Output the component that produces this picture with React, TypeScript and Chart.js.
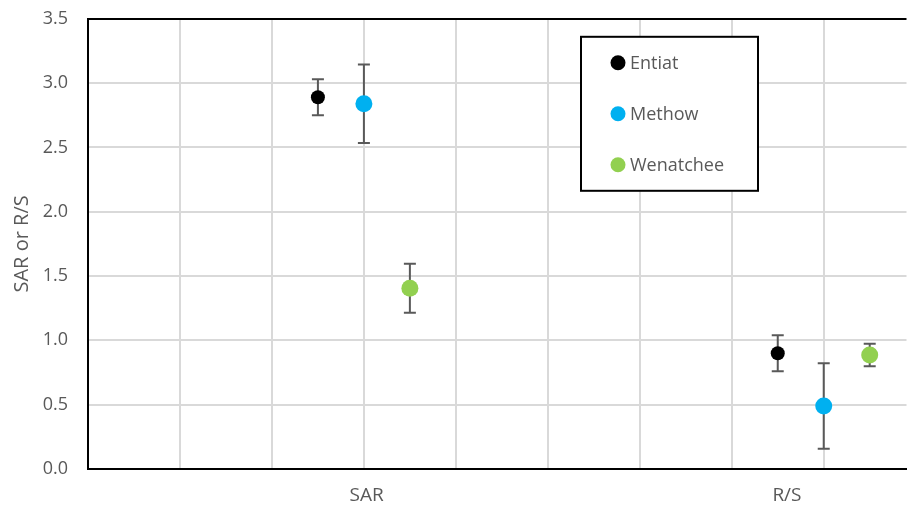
import React, { useEffect, useRef } from "react";
import { Chart, registerables } from "chart.js";

Chart.register(...registerables);

const categories = ["SAR", "R/S"];
const categoryLabelAt = [3.03, 7.6];
const seriesNames = ["Entiat", "Methow", "Wenatchee"];
const seriesColors = ["#000000", "#00B0F0", "#92D050"];
const seriesRadius = [7, 8.5, 8.5];
const seriesX = [
  [2.5, 7.5],
  [3, 8],
  [3.5, 8.5],
];
const entiatValues = [2.89, 0.9];
const entiatErrors = [0.14, 0.14];
const methowValues = [2.84, 0.49];
const methowErrors = [0.305, 0.332];
const wenatcheeValues = [1.405, 0.886];
const wenatcheeErrors = [0.19, 0.088];
const yTicks = [0, 0.5, 1, 1.5, 2, 2.5, 3, 3.5];

const FONT = "'Open Sans', 'Noto Sans', sans-serif";
const TEXT = "#595959";

const values = [entiatValues, methowValues, wenatcheeValues];
const errors = [entiatErrors, methowErrors, wenatcheeErrors];

const errorBarPlugin = {
  id: "errorBars",
  beforeDatasetsDraw(chart: any) {
    const ctx = chart.ctx;
    const ys = chart.scales.y;
    ctx.save();
    ctx.strokeStyle = "#595959";
    ctx.lineWidth = 2;
    chart.data.datasets.forEach((ds: any, di: number) => {
      const meta = chart.getDatasetMeta(di);
      meta.data.forEach((pt: any, i: number) => {
        const v = ds.data[i].y;
        const e = ds.errors[i];
        const top = ys.getPixelForValue(v + e);
        const bot = ys.getPixelForValue(v - e);
        const x = pt.x;
        ctx.beginPath();
        ctx.moveTo(x, top);
        ctx.lineTo(x, bot);
        ctx.moveTo(x - 6, top);
        ctx.lineTo(x + 6, top);
        ctx.moveTo(x - 6, bot);
        ctx.lineTo(x + 6, bot);
        ctx.stroke();
      });
    });
    ctx.restore();
  },
};

const legendBoxPlugin = {
  id: "legendBox",
  afterDraw(chart: any) {
    const ctx = chart.ctx;
    const a = chart.chartArea;
    const box = { x: a.left + 493, y: a.top + 18, w: 177, h: 154 };
    ctx.save();
    ctx.fillStyle = "#ffffff";
    ctx.fillRect(box.x, box.y, box.w, box.h);
    ctx.strokeStyle = "#000000";
    ctx.lineWidth = 2;
    ctx.strokeRect(box.x, box.y, box.w, box.h);
    chart.data.datasets.forEach((ds: any, i: number) => {
      const cy = box.y + 26 + i * 51;
      ctx.beginPath();
      ctx.fillStyle = ds.backgroundColor;
      ctx.arc(box.x + 37, cy, 7.5, 0, Math.PI * 2);
      ctx.fill();
      ctx.fillStyle = TEXT;
      ctx.font = `18px ${FONT}`;
      ctx.textBaseline = "middle";
      ctx.textAlign = "left";
      ctx.fillText(ds.label, box.x + 49, cy + 1);
    });
    ctx.restore();
  },
};

export default function App() {
  const ref = useRef<HTMLCanvasElement>(null);
  useEffect(() => {
    document.body.style.margin = "0";
    const datasets = seriesNames.map((name, s) => ({
      label: name,
      data: values[s].map((v, i) => ({ x: seriesX[s][i], y: v })),
      errors: errors[s],
      backgroundColor: seriesColors[s],
      borderColor: seriesColors[s],
      pointRadius: seriesRadius[s],
      pointBorderWidth: 0,
      showLine: false,
    }));
    const chart = new Chart(ref.current as HTMLCanvasElement, {
      type: "scatter",
      data: { datasets } as any,
      plugins: [errorBarPlugin, legendBoxPlugin],
      options: {
        animation: false,
        responsive: false,
        layout: { padding: 0 },
        plugins: { legend: { display: false }, tooltip: { enabled: false } },
        scales: {
          x: {
            type: "linear",
            min: 0,
            max: 8.9,
            afterBuildTicks(scale: any) {
              const t: any[] = [];
              for (let i = 1; i <= 8; i++) t.push({ value: i });
              categories.forEach((c, i) => t.push({ value: categoryLabelAt[i], label: c }));
              t.sort((a, b) => a.value - b.value);
              scale.ticks = t;
            },
            afterFit(scale: any) {
              scale.height = 37;
            },
            ticks: {
              autoSkip: false,
              maxRotation: 0,
              padding: 15,
              color: TEXT,
              font: { family: FONT, size: 19 },
              callback(this: any, value: any) {
                const i = categoryLabelAt.indexOf(value);
                return i >= 0 ? categories[i] : "";
              },
            },
            grid: {
              drawTicks: false,
              lineWidth: 2,
              color: (c: any) =>
                categoryLabelAt.includes(c.tick?.value) ? "rgba(0,0,0,0)" : "#d9d9d9",
            },
            border: { color: "#000000", width: 2 },
          },
          y: {
            min: 0,
            max: 3.5,
            afterBuildTicks(scale: any) {
              scale.ticks = yTicks.map((v) => ({ value: v }));
            },
            afterFit(scale: any) {
              scale.width = 88;
            },
            ticks: {
              padding: 20,
              color: TEXT,
              font: { family: FONT, size: 18 },
              callback: (v: any) => Number(v).toFixed(1),
            },
            grid: {
              drawTicks: false,
              lineWidth: 2,
              color: (c: any) => (c.tick?.value === 3.5 ? "#000000" : "#d9d9d9"),
            },
            border: { color: "#000000", width: 2 },
            title: {
              display: true,
              text: "SAR or R/S",
              color: TEXT,
              font: { family: FONT, size: 20 },
              padding: { top: 10, bottom: 0 },
            },
          },
        },
      } as any,
    });
    return () => chart.destroy();
  }, []);
  return (
    <div style={{ width: 907, height: 506, overflow: "hidden", position: "relative" }}>
      <canvas
        ref={ref}
        width={915}
        height={518}
        style={{ display: "block", position: "absolute", left: 0, top: -12 }}
      />
    </div>
  );
}
